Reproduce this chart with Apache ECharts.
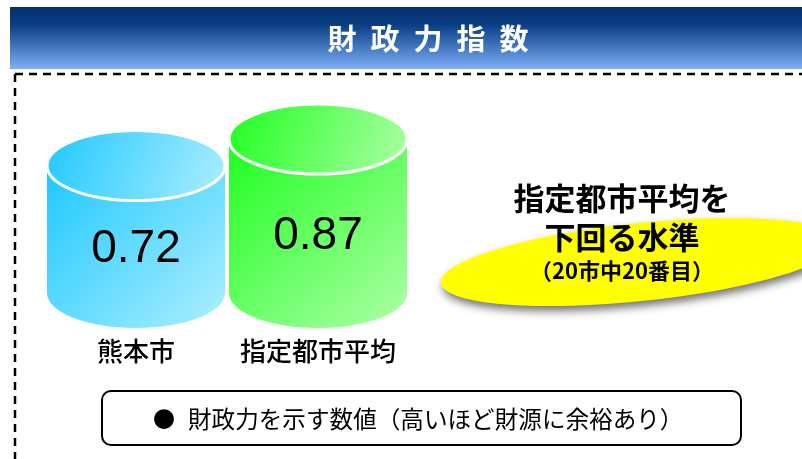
<!DOCTYPE html>
<html>
<head>
<meta charset="utf-8">
<script src="https://cdn.jsdelivr.net/npm/echarts@6/dist/echarts.min.js"></script>
<style>
  html, body { margin: 0; padding: 0; background: #fff; }
  #chart { width: 802px; height: 459px; }
</style>
</head>
<body>
<div id="chart"></div>
<script>
// データ
const categories = ['熊本市', '指定都市平均'];
const values = [0.72, 0.87];
const titleText = '財政力指数';
const calloutLines = ['指定都市平均を', '下回る水準', '（20市中20番目）'];
const noteText = '財政力を示す数値（高いほど財源に余裕あり）';

// 円柱の色（左上 → 右下）
const startColors = ['#1EC8FF', '#1EFF1E'];
const endColors = ['#AEEFFF', '#AEFFA8'];

const JP = '"Noto Sans CJK JP", "Noto Sans CJK SC", sans-serif';

const chart = echarts.init(document.getElementById('chart'));

// 円柱を描く
function renderCylinder(params, api) {
  const idx = api.value(0);
  const base = api.coord([idx, 0]);
  const top = api.coord([idx, api.value(1)]);
  const cx = base[0];
  const rx = 89;
  const ry = 35;
  const bodyFill = {
    type: 'linear', global: true,
    x: cx - rx, y: top[1], x2: cx + rx, y2: base[1] + ry,
    colorStops: [
      { offset: 0, color: startColors[idx] },
      { offset: 1, color: endColors[idx] }
    ]
  };
  const topFill = new echarts.graphic.LinearGradient(0, 0, 1, 1, [
    { offset: 0, color: startColors[idx] },
    { offset: 1, color: endColors[idx] }
  ]);
  return {
    type: 'group',
    children: [
      { type: 'rect', shape: { x: cx - rx, y: top[1], width: rx * 2, height: base[1] - top[1] }, style: { fill: bodyFill } },
      { type: 'ellipse', shape: { cx: cx, cy: base[1], rx: rx, ry: ry }, style: { fill: bodyFill } },
      { type: 'ellipse', shape: { cx: cx, cy: top[1], rx: rx, ry: ry }, style: { fill: topFill, stroke: '#fff', lineWidth: 3 } },
      {
        type: 'text',
        style: {
          text: api.value(1).toFixed(2),
          x: cx, y: (top[1] + base[1]) / 2 + 20,
          align: 'center', verticalAlign: 'middle',
          font: '46px "Liberation Sans", Arial, sans-serif',
          fill: '#000'
        }
      }
    ]
  };
}

const titleChars = titleText.split('').map((c, i) => ({
  type: 'text',
  style: {
    text: c, x: 342 + i * 43, y: 39,
    align: 'center', verticalAlign: 'middle',
    font: 'bold 29px ' + JP, fill: '#fff'
  }
}));

const option = {
  animation: false,
  grid: { left: 45, width: 364, top: 116, height: 177 },
  xAxis: {
    type: 'category',
    data: categories,
    axisLine: { show: false },
    axisTick: { show: false },
    axisLabel: { interval: 0, margin: 45, fontSize: 26, fontWeight: 500, color: '#000', fontFamily: JP }
  },
  yAxis: { type: 'value', min: 0, max: 1, show: false },
  series: [{
    type: 'custom',
    renderItem: renderCylinder,
    data: values.map((v, i) => [i, v]),
    z: 10
  }],
  graphic: [
    // タイトル帯
    {
      type: 'rect', shape: { x: 10, y: 7, width: 792, height: 62 },
      style: {
        fill: new echarts.graphic.LinearGradient(0, 0, 0, 1, [
          { offset: 0, color: '#00306E' },
          { offset: 0.3, color: '#0B3F86' },
          { offset: 1, color: '#7DB0F8' }
        ])
      }
    },
    ...titleChars,
    // 破線の枠
    { type: 'line', shape: { x1: 15, y1: 74, x2: 802, y2: 74 }, style: { stroke: '#000', lineWidth: 2.5, lineDash: [8, 6] } },
    { type: 'line', shape: { x1: 15, y1: 74, x2: 15, y2: 459 }, style: { stroke: '#000', lineWidth: 2.5, lineDash: [8, 6] } },
    // 黄色の楕円
    {
      type: 'ellipse', x: 640, y: 262, rotation: 6 * Math.PI / 180,
      shape: { cx: 0, cy: 0, rx: 200, ry: 39 },
      style: { fill: '#FFFF00', shadowBlur: 8, shadowOffsetX: 2, shadowOffsetY: 5, shadowColor: 'rgba(0,0,0,0.55)' }
    },
    { type: 'text', style: { text: calloutLines[0], x: 622, y: 198, align: 'center', verticalAlign: 'middle', font: 'bold 31px ' + JP, fill: '#000' } },
    { type: 'text', style: { text: calloutLines[1], x: 622, y: 237, align: 'center', verticalAlign: 'middle', font: 'bold 31px ' + JP, fill: '#000' } },
    { type: 'text', style: { text: calloutLines[2], x: 622, y: 271, align: 'center', verticalAlign: 'middle', font: 'bold 22px ' + JP, fill: '#000' } },
    // 注記の枠
    {
      type: 'rect', shape: { x: 102, y: 391, width: 639, height: 54, r: 9 },
      style: { fill: '#fff', stroke: '#000', lineWidth: 2 }
    },
    { type: 'text', style: { text: '●', x: 153, y: 419, align: 'left', verticalAlign: 'middle', font: '22px ' + JP, fill: '#000' } },
    { type: 'text', style: { text: noteText, x: 188, y: 419, align: 'left', verticalAlign: 'middle', font: '23.6px ' + JP, fill: '#000' } }
  ]
};

chart.setOption(option);
</script>
</body>
</html>
